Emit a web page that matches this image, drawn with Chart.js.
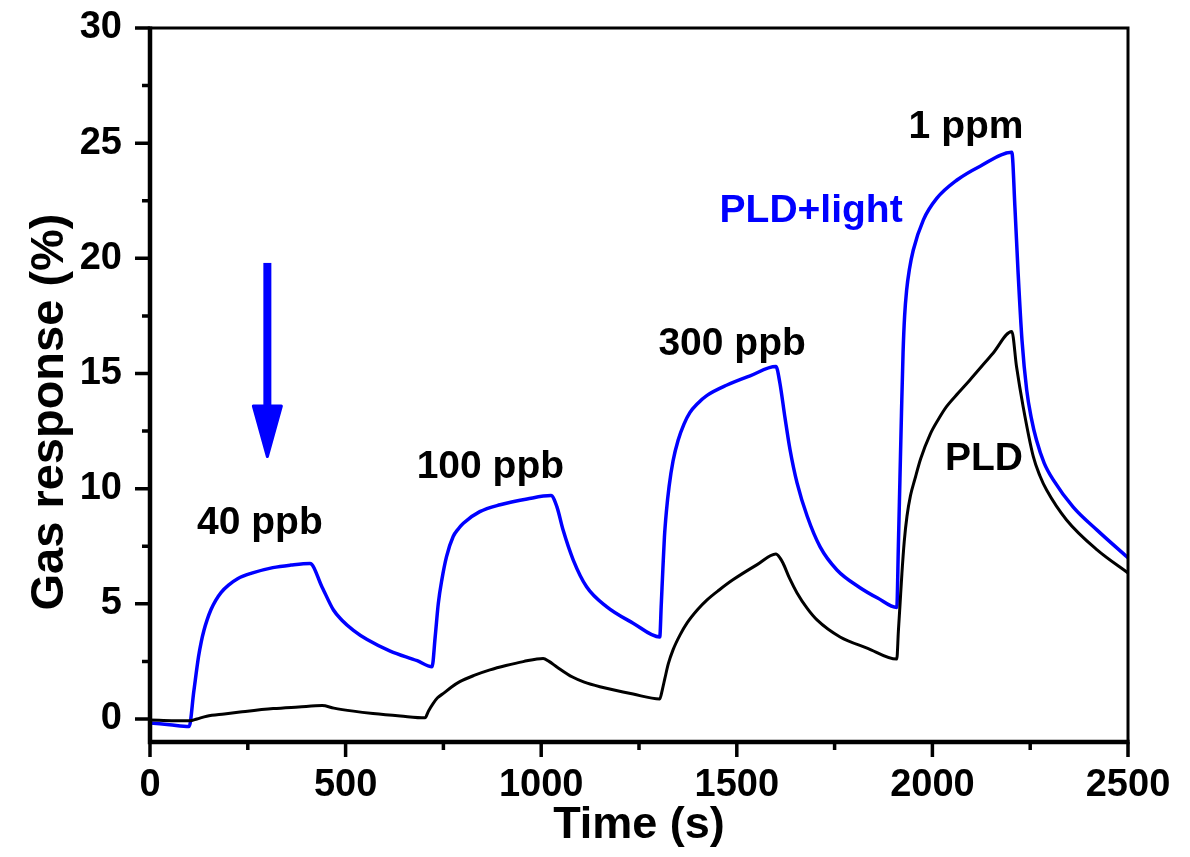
<!DOCTYPE html>
<html>
<head>
<meta charset="utf-8">
<script src="https://cdn.jsdelivr.net/npm/chart.js@4.4.1/dist/chart.umd.min.js"></script>
<style>
  html, body { margin: 0; padding: 0; background: #ffffff; }
  #wrap { width: 1190px; height: 857px; }
</style>
</head>
<body>
<div id="wrap"><canvas id="c" width="1190" height="857"></canvas></div>
<script>
// ---- data: gas response vs. time ----
const timeLight = [
  0, 50, 100, 112, 124, 131, 138, 146, 156, 168, 182, 200, 225, 260, 314, 360, 409,
  440, 469, 490, 520, 555, 614, 683, 721,
  729, 737, 746, 758, 775, 788, 801, 843, 895, 964, 1025,
  1040, 1056, 1082, 1116, 1167, 1235, 1303,
  1307, 1311, 1315, 1320, 1327, 1337, 1350, 1365, 1380, 1400, 1424, 1475, 1534, 1600,
  1610, 1623, 1636, 1654, 1680, 1713, 1756, 1815, 1860, 1909,
  1913, 1917, 1921, 1925, 1929, 1934, 1941, 1951, 1977, 2011, 2063, 2122, 2203,
  2211, 2219, 2229, 2241, 2253, 2266, 2286, 2309, 2360, 2421, 2500
];
const respLight = [
  -0.17, -0.25, -0.33, 1.2, 2.7, 3.35, 3.85, 4.3, 4.75, 5.15, 5.5, 5.8, 6.1, 6.33, 6.57, 6.68, 6.75,
  5.72, 4.73, 4.3, 3.85, 3.45, 2.95, 2.53, 2.27,
  3.57, 5.02, 6.04, 7.05, 7.92, 8.25, 8.5, 9.0, 9.3, 9.55, 9.7,
  9.22, 8.2, 6.9, 5.74, 4.88, 4.16, 3.56,
  5.0, 6.5, 7.9, 9.0, 10.1, 11.2, 12.1, 12.8, 13.3, 13.7, 14.05, 14.5, 14.9, 15.3,
  14.6, 13.1, 11.7, 10.25, 8.8, 7.47, 6.47, 5.7, 5.25, 4.84,
  7.5, 10.4, 13.3, 15.9, 17.5, 18.6, 19.5, 20.35, 21.67, 22.6, 23.4, 24.0, 24.6,
  22.2, 19.4, 16.45, 14.29, 13.05, 12.11, 11.1, 10.38, 9.2, 8.2, 7.0
];
const timePLD = [
  0, 102, 120, 145, 190, 230, 315, 380, 440, 470, 520, 570, 640, 703,
  712, 724, 735, 750, 770, 792, 830, 869, 910, 954, 1005,
  1020, 1040, 1080, 1110, 1150, 1235, 1303,
  1310, 1316, 1325, 1337, 1355, 1373, 1400, 1424, 1455, 1490, 1552, 1600,
  1610, 1618, 1635, 1654, 1680, 1705, 1764, 1833, 1909,
  1913, 1917, 1922, 1928, 1935, 1944, 1955, 1970, 1994, 2015, 2036, 2066, 2096, 2155, 2203,
  2215, 2232, 2258, 2275, 2292, 2343, 2421, 2500
];
const respPLD = [
  -0.05, -0.08, 0.0, 0.12, 0.22, 0.3, 0.45, 0.52, 0.58, 0.47, 0.34, 0.24, 0.13, 0.05,
  0.35, 0.68, 0.92, 1.11, 1.38, 1.62, 1.9, 2.13, 2.32, 2.49, 2.63,
  2.5, 2.26, 1.82, 1.6, 1.4, 1.08, 0.87,
  1.3, 1.75, 2.4, 3.0, 3.65, 4.17, 4.75, 5.17, 5.6, 6.04, 6.7, 7.16,
  7.0, 6.77, 6.1, 5.47, 4.8, 4.3, 3.56, 3.08, 2.6,
  3.8, 4.9, 6.3, 7.7, 8.8, 9.7, 10.4, 11.3, 12.35, 13.0, 13.56, 14.15, 14.72, 15.88, 16.82,
  15.3, 13.56, 11.39, 10.55, 9.94, 8.64, 7.34, 6.34
];

const seriesNames = ['PLD+light', 'PLD'];
const concLabels = ['40 ppb', '100 ppb', '300 ppb', '1 ppm'];

const xTickValues = [0, 500, 1000, 1500, 2000, 2500];
const xMinorTickValues = [250, 750, 1250, 1750, 2250];
const yTickValues = [0, 5, 10, 15, 20, 25, 30];
const yMinorTickValues = [2.5, 7.5, 12.5, 17.5, 22.5, 27.5];

// ---- placement of the annotations (data units) ----
const concLabelPos = [[281, 8.03], [870, 10.46], [1488, 15.8], [2086, 25.23]];
const seriesLabelPos = [[1690, 21.58], [2132, 10.81]];
const arrowPos = { t: 300, from: 19.8, headBase: 13.63, tip: 11.33 };

const BLUE = '#0000ff';
const FONT = "'Liberation Sans', Arial, Helvetica, sans-serif";

const toXY = (ts, vs) => ts.map((t, i) => ({ x: t, y: vs[i] }));

// frame, tick marks, axis titles, arrow and text notes
const decorations = {
  id: 'decorations',
  afterDatasetsDraw(chart) {
    const { ctx, chartArea: a, scales: { x, y } } = chart;
    ctx.save();
    ctx.strokeStyle = '#000';
    ctx.lineCap = 'butt';

    // top and right border
    ctx.lineWidth = 3;
    ctx.beginPath();
    ctx.moveTo(a.left, a.top); ctx.lineTo(a.right, a.top); ctx.lineTo(a.right, a.bottom);
    ctx.stroke();

    // left and bottom axes
    ctx.lineWidth = 4.5;
    ctx.beginPath();
    ctx.moveTo(a.left, a.top - 1.5); ctx.lineTo(a.left, a.bottom);
    ctx.moveTo(a.left - 2.25, a.bottom); ctx.lineTo(a.right + 1.5, a.bottom);
    ctx.stroke();

    // outward tick marks
    ctx.lineWidth = 3.5;
    ctx.beginPath();
    const xt = (v, len) => { const p = x.getPixelForValue(v); ctx.moveTo(p, a.bottom); ctx.lineTo(p, a.bottom + len); };
    const yt = (v, len) => { const p = y.getPixelForValue(v); ctx.moveTo(a.left, p); ctx.lineTo(a.left - len, p); };
    xTickValues.forEach(v => xt(v, 15));
    xMinorTickValues.forEach(v => xt(v, 8));
    yTickValues.forEach(v => yt(v, 15));
    yMinorTickValues.forEach(v => yt(v, 8));
    ctx.stroke();

    // axis titles
    ctx.fillStyle = '#000';
    ctx.textAlign = 'center';
    ctx.textBaseline = 'alphabetic';
    ctx.font = `bold 45px ${FONT}`;
    ctx.fillText('Time (s)', (a.left + a.right) / 2, 838);
    ctx.save();
    ctx.font = `bold 47px ${FONT}`;
    ctx.translate(63, (a.top + a.bottom) / 2 + 27);
    ctx.rotate(-Math.PI / 2);
    ctx.fillText('Gas response (%)', 0, 0);
    ctx.restore();

    // concentration labels
    ctx.font = `bold 39px ${FONT}`;
    concLabels.forEach((s, i) => {
      ctx.fillText(s, x.getPixelForValue(concLabelPos[i][0]), y.getPixelForValue(concLabelPos[i][1]));
    });
    // series labels
    ctx.fillStyle = BLUE;
    ctx.fillText(seriesNames[0], x.getPixelForValue(seriesLabelPos[0][0]), y.getPixelForValue(seriesLabelPos[0][1]));
    ctx.fillStyle = '#000';
    ctx.fillText(seriesNames[1], x.getPixelForValue(seriesLabelPos[1][0]), y.getPixelForValue(seriesLabelPos[1][1]));

    // downward arrow
    const ax = x.getPixelForValue(arrowPos.t);
    const y0 = y.getPixelForValue(arrowPos.from);
    const yb = y.getPixelForValue(arrowPos.headBase);
    const yTip = y.getPixelForValue(arrowPos.tip);
    ctx.fillStyle = BLUE;
    ctx.fillRect(ax - 4, y0, 8, yb - y0 + 2);
    ctx.strokeStyle = BLUE;
    ctx.lineWidth = 3;
    ctx.lineJoin = 'round';
    ctx.beginPath();
    ctx.moveTo(ax - 14, yb + 1);
    ctx.lineTo(ax + 14, yb + 1);
    ctx.lineTo(ax, yTip - 1.5);
    ctx.closePath();
    ctx.fill();
    ctx.stroke();

    ctx.restore();
  }
};

new Chart(document.getElementById('c'), {
  type: 'line',
  data: {
    datasets: [
      {
        label: seriesNames[1],
        data: toXY(timePLD, respPLD),
        borderColor: '#000000',
        borderWidth: 3,
        cubicInterpolationMode: 'monotone',
        pointRadius: 0,
        fill: false
      },
      {
        label: seriesNames[0],
        data: toXY(timeLight, respLight),
        borderColor: BLUE,
        borderWidth: 3.5,
        cubicInterpolationMode: 'monotone',
        pointRadius: 0,
        fill: false
      }
    ]
  },
  options: {
    responsive: false,
    animation: false,
    devicePixelRatio: 1,
    layout: { padding: { left: 0, right: 62, top: 28, bottom: 0 } },
    plugins: { legend: { display: false }, tooltip: { enabled: false } },
    elements: { line: { borderJoinStyle: 'round', borderCapStyle: 'round' } },
    scales: {
      x: {
        type: 'linear',
        min: 0,
        max: 2500,
        afterBuildTicks: s => { s.ticks = xTickValues.map(v => ({ value: v })); },
        afterFit: s => { s.height = 115; s.paddingLeft = 0; s.paddingRight = 0; },
        grid: { display: false, drawTicks: false },
        border: { display: false },
        ticks: {
          color: '#000',
          font: { family: FONT, size: 38, weight: 'bold' },
          padding: 21,
          maxRotation: 0,
          autoSkip: false,
          callback: v => String(v)
        }
      },
      y: {
        type: 'linear',
        min: -1,
        max: 30,
        afterBuildTicks: s => { s.ticks = yTickValues.map(v => ({ value: v })); },
        afterFit: s => { s.width = 150; s.paddingTop = 0; s.paddingBottom = 0; },
        grid: { display: false, drawTicks: false },
        border: { display: false },
        ticks: {
          color: '#000',
          font: { family: FONT, size: 38, weight: 'bold' },
          padding: 28,
          autoSkip: false,
          callback: v => String(v)
        }
      }
    }
  },
  plugins: [decorations]
});
</script>
</body>
</html>
